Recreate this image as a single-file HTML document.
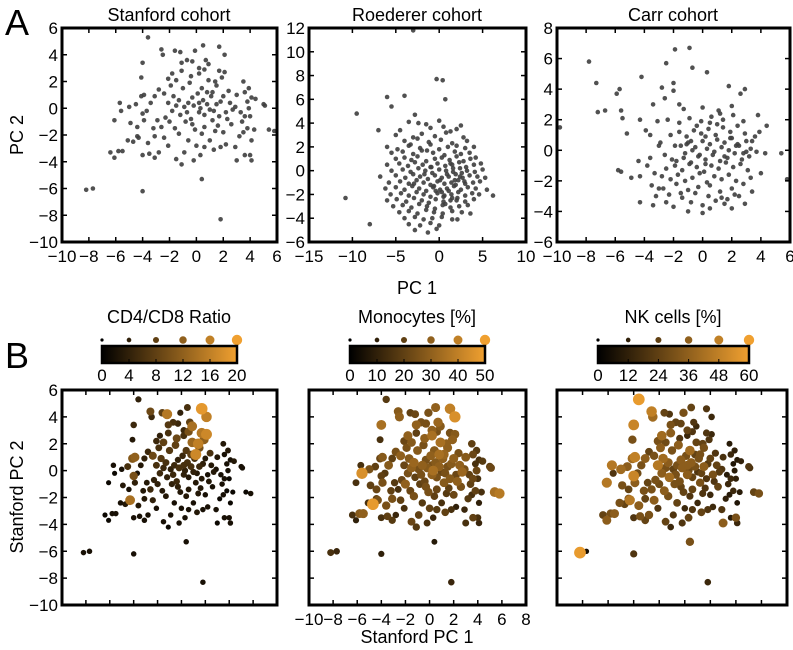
<!DOCTYPE html>
<html><head><meta charset="utf-8"><style>
html,body{margin:0;padding:0;background:#fff;}
svg{display:block;font-family:"Liberation Sans",sans-serif;}
</style></head><body>
<svg id="fig" width="793" height="650" viewBox="0 0 793 650">
<defs><linearGradient id="cg" x1="0" x2="1" y1="0" y2="0"><stop offset="0" stop-color="#000"/><stop offset="1" stop-color="#f0a030"/></linearGradient></defs>
<text x="5" y="35" font-size="36">A</text>
<text x="5" y="368" font-size="36">B</text>
<text x="169" y="21" font-size="18" text-anchor="middle">Stanford cohort</text>
<text x="417" y="21" font-size="18" text-anchor="middle">Roederer cohort</text>
<text x="673" y="21" font-size="18" text-anchor="middle">Carr cohort</text>
<text transform="translate(23,135) rotate(-90)" font-size="18" text-anchor="middle">PC 2</text>
<text x="417" y="294" font-size="18" text-anchor="middle">PC 1</text>
<text transform="translate(23,497) rotate(-90)" font-size="18" text-anchor="middle">Stanford PC 2</text>
<text x="417" y="643" font-size="18" text-anchor="middle">Stanford PC 1</text>
<text x="169" y="323" font-size="18" text-anchor="middle">CD4/CD8 Ratio</text>
<text x="417" y="323" font-size="18" text-anchor="middle">Monocytes [%]</text>
<text x="673" y="323" font-size="18" text-anchor="middle">NK cells [%]</text>
</svg>
<script>
const stanfordX=[-8.2,-7.7,-4,0.4,1.8,-3.6,-4,-4.1,1.7,2.1, 0.5,-0.1,-2.6,-2.5,-1.6,-1.2,-1.1,-0.7,0.7,0.9, -0.3,-1.1,-1.8,-2.1,-1.5,-0.4,0.2,0.6,0.2,1.7, 2.1,1.9,3.5,3.9,3.6,4.1,3.8,4.4,5.0,5.1, 5.4,5.8,4.3,4.1,3.8,3.5,3.2,3.6,4.0,3.3, 2.9,2.5,2.2,1.8,1.5,1.1,0.8,0.4,0.1,-0.3, -0.6,-0.9,-1.3,-1.7,-2.1,-2.4,-2.8,-3.1,-3.4,-3.7, -4.1,-4.5,-5.0,-5.7,-5.6,-6.1,-4.9,-4.4,-3.9,-4.4, -4.7,-5.1,-5.5,-5.8,-6.4,-6.1,-4.0,-3.5,-3.1,-2.8, -2.4,-3.1,-2.6,-2.0,-1.6,-1.3,-0.9,-1.5,-1.1,-0.2, 0.3,0.6,1.0,1.3,1.8,2.2,2.9,3.0,3.6,4.1, 4.0,0.4,-0.1,-0.4,0.2,0.6,1.2,1.6,2.0,2.6, 2.3,-0.7,-0.2,0.3,0.8,1.3,-1.2,-1.8,-2.3,-2.9, -3.2,-3.6,-2.1,-0.6,0.0,1.5,2.4,3.0,2.7,-0.5, -1.0,0.9,-1.9,3.4,3.9,1.4,-0.3,-1.5,0.5,1.0, 2.0,-4.3,-4.0,-3.9,1.4,1.2,0.2,-0.8,1.7,0.6];
const stanfordY=[-6.1,-6.0,-6.2,-5.3,-8.3,5.3,3.4,2.3,4.6,4.0, 4.7,4.3,4.4,4.0,4.3,4.2,3.4,3.6,3.6,3.3, 3.5,2.8,2.6,2.2,2.1,2.4,2.6,2.9,3.0,2.8, 2.7,2.3,2.0,1.5,1.2,0.8,0.5,0.7,0.3,0.2, -1.6,-1.7,-1.6,-2.4,-1.5,-1.8,-2.1,-0.6,-0.6,-0.3, 0.1,0.4,-0.3,0.5,0.3,0.9,1.2,1.5,1.1,0.8, 0.4,0.1,0.6,0.9,0.4,1.1,1.4,0.9,0.4,-0.2, 0.9,0.3,0.1,0.4,-0.2,-0.9,-1.1,-1.4,-0.9,-2.1, -2.5,-2.4,-3.2,-3.2,-3.3,-3.7,-3.5,-3.4,-3.7,-3.3, -2.2,-2.1,-1.4,-1.0,-1.5,-1.9,-3.3,-3.8,-4.2,-3.9, -3.5,-2.9,-2.4,-3.1,-2.9,-2.7,-2.9,-3.9,-3.5,-3.9, -3.5,-1.9,-1.6,-0.8,-0.3,-0.5,-0.9,-1.3,-1.8,-1.2, -0.8,-0.3,0.2,0.0,0.3,-0.2,-0.5,-0.2,-0.7,-0.9, -1.5,-2.6,-2.8,-2.4,-2.8,1.7,1.3,1.0,-0.1,1.9, 1.5,2.1,1.7,-1.0,0.0,-1.7,-1.2,0.2,0.6,-0.1, 0.9,-2.2,-0.4,1.0,2.0,1.2,0.4,-1.0,-0.6,-1.4];
const cd4Values=[2,2,2,2,2,4,5,3,19,16, 6,4,9,5,8,15,7,6,8,14, 5,6,4,5,8,9,6,10,5,15, 17,12,3,3,2,2,2,3,2,2, 1,2,1,1,1,2,1,2,1,2, 2,3,2,4,5,6,8,7,5,4, 5,4,6,7,6,9,5,4,3,2, 11,6,2,2,1,1,3,2,4,3, 3,2,2,2,1,1,2,2,2,2, 4,3,5,4,3,3,2,2,1,2, 2,2,2,3,2,2,2,1,2,2, 2,3,3,5,4,3,3,3,2,2, 3,5,6,4,6,3,4,5,4,3, 3,3,2,2,2,10,6,3,3,8, 7,13,6,2,2,3,4,5,6,4, 3,14,10,12,16,17,6,4,3,3];
const monoValues=[15,12,10,8,12,18,35,15,40,45, 30,25,28,30,20,22,30,25,32,28, 25,20,30,22,28,30,35,25,30,25, 28,30,20,18,22,15,15,18,20,22, 35,38,15,10,20,15,18,22,15,20, 25,30,22,28,25,30,35,28,30,25, 30,25,32,28,22,30,25,20,28,18, 22,20,25,15,45,15,20,22,25,20, 48,15,30,28,15,10,15,20,18,12, 20,25,15,30,22,25,20,22,18,15, 12,18,15,20,15,10,12,15,20,12, 15,20,25,22,30,25,28,20,22,25, 30,25,28,35,30,25,20,25,22,18, 20,25,15,18,20,30,25,28,32,25, 28,35,25,20,22,18,25,30,28,22, 30,25,20,28,30,32,25,20,28,22];
const nkValues=[58,5,20,30,15,58,50,30,20,15, 25,30,48,40,25,20,30,25,20,15, 25,35,40,30,28,20,15,20,25,20, 15,20,10,12,15,10,8,12,20,18, 25,30,10,8,15,10,12,15,12,10, 20,25,30,22,35,30,25,40,30,35, 30,25,35,40,45,30,25,35,30,28, 40,35,40,45,20,45,30,25,35,30, 25,30,35,30,25,35,20,30,25,30, 35,25,30,28,35,30,20,25,15,20, 25,20,15,25,20,15,20,35,10,15, 30,20,25,30,35,25,30,20,15,25, 20,30,35,28,30,25,40,35,30,25, 30,35,20,25,15,30,20,18,22,35, 30,25,35,15,10,20,25,30,35,20, 25,45,50,48,25,30,35,30,20,25];
const roedererX=[-10.8,-9.5,-8,-6,-7,-5.5,-3,-0.3,0.4,0.7,-4,-2.8,
-3.5,-1.5,0,2.5,-2.4, -4.5,-1,1.3,2,0.5, -5,-3,-2,-0.5,0.8,2.8, -4,-2.5,-1.2,0.2,1.5,3.2,-3.3,
-6,-4.8,-3.5,-2.2,-1,0,1,2,3,4, -5.5,-4.2,-3,-2,-0.7,0.6,1.8,2.5,3.5,-1.4,
-5,-4,-3.2,-2.5,-1.5,-0.5,0.3,1.2,2,2.8,3.6,4.2, -6,-4.6,-3.6,-2.8,-1.9,-1,-0.2,0.7,1.5,2.3,3.1,4,4.8,
-5.5,-4.2,-3.3,-2.4,-1.6,-0.8,0,0.8,1.6,2.4,3.2,4.1,5, -6.8,-5,-3.9,-3,-2.2,-1.3,-0.5,0.3,1.1,1.9,2.7,3.5,4.4,5.3,
-5.8,-4.5,-3.5,-2.6,-1.8,-1,-0.2,0.6,1.4,2.2,3,3.9,4.7, -6.2,-5,-4,-3.1,-2.3,-1.5,-0.7,0.1,0.9,1.7,2.5,3.3,4.2,5.5,
-5.6,-4.4,-3.5,-2.6,-1.8,-1,-0.2,0.6,1.4,2.2,3,3.8,4.6,6.2, -6,-4.9,-3.8,-2.9,-2,-1.2,-0.4,0.5,1.3,2.1,3,4,
-5.3,-4.2,-3.2,-2.3,-1.4,-0.5,0.4,1.3,2.3,3.3, -4.6,-3.5,-2.5,-1.5,-0.6,0.4,1.5,2.6,3.6, -4,-2.8,-1.8,-0.8,0.3,1.5, -3.5,-2.2,-1,0,2.1, -2.8,-1.3,-0.3,
0.9,1.8,-0.6,0.3,1.5,2.6,-1.7,0.1,1.1,2.0,-0.9,0.5,1.3,2.9,-2.9,1.9,0.7,-0.4,1.6,2.4];
const roedererY=[-2.3,4.8,-4.5,6.2,3.4,5.4,11.8,7.7,7.6,6.0,6.3,4.7,
4.1,3.9,4.2,3.8,4.0, 3.4,3.6,3.3,3.5,3.7, 3.0,2.8,3.1,2.9,3.2,2.8, 2.5,2.7,2.4,2.6,2.3,2.5,2.2,
2.0,1.8,2.1,1.9,2.2,1.8,2.0,2.1,1.9,2.0, 1.5,1.6,1.4,1.7,1.5,1.3,1.6,1.4,1.5,1.7,
1.0,1.1,0.9,1.2,0.8,1.0,1.1,0.9,1.2,0.8,1.0,1.1, 0.5,0.6,0.4,0.7,0.5,0.3,0.6,0.4,0.5,0.7,0.3,0.5,0.6,
0.0,0.1,-0.1,0.2,0.0,-0.2,0.1,0.0,-0.1,0.2,0.0,-0.1,0.1, -0.5,-0.4,-0.6,-0.3,-0.5,-0.7,-0.4,-0.6,-0.5,-0.3,-0.6,-0.4,-0.5,-0.6,
-1.0,-0.9,-1.1,-0.8,-1.0,-1.2,-0.9,-1.1,-1.0,-0.8,-1.1,-1.0,-0.9, -1.5,-1.4,-1.6,-1.3,-1.5,-1.7,-1.4,-1.6,-1.5,-1.3,-1.6,-1.4,-1.5,-1.6,
-2.0,-1.9,-2.1,-1.8,-2.0,-2.2,-1.9,-2.1,-2.0,-1.8,-2.1,-1.9,-2.0,-2.1, -2.5,-2.4,-2.6,-2.3,-2.5,-2.7,-2.4,-2.6,-2.5,-2.3,-2.6,-2.4,
-3.0,-2.9,-3.1,-2.8,-3.0,-3.2,-2.9,-3.1,-3.0,-2.9, -3.5,-3.4,-3.6,-3.3,-3.5,-3.6,-3.4,-3.5,-3.6, -4.0,-3.9,-4.1,-4.0,-3.9,-4.1, -4.5,-4.6,-4.4,-4.6,-4.1, -5.0,-5.2,-4.9,
-0.3,-0.8,-1.3,-1.8,-2.3,-0.2,-0.3,-0.8,-1.7,-2.5,0.3,-2.2,0.6,-0.9,-1.1,-1.2,-2.8,-1.7,0.2,-0.5];
const carrX=[-7.8,-7.3,-7.2,-6.7,-5.9,-5.7,-5.6,-5.5,-5.2,-5.8,-5.6,-4.9,-4.2,-4.3,-3.9,-3.4,-3.6,-2.5,-1.9,-0.9,-0.7,0.3,-2.8,-2.6,-2,-2,-1.6,-4.3,-4.3,-4.4,-3.4,-3.3,-3,-2.5,-2,-1.5,-1,0,0.5,1.5,2,2.9,3.4,4,4.4,4.3,5.4,5.8,3.8,3.9,3.4,2.9,2.6,1.8,-9.8,
-1.5,-1,-0.5,0,0.5,1,1.5,2,2.5,3,-1.2,-0.7,-0.2,0.3,0.8,1.3,1.8,2.3,2.8,3.3,-1.8,-1.3,-0.8,-0.3,0.2,0.7,1.2,1.7,2.2,2.7,3.2,3.7,
-2.2,-1.6,-1.1,-0.6,-0.1,0.4,0.9,1.4,1.9,2.4,2.9,-2.5,-1.9,-1.4,-0.9,-0.4,0.1,0.6,1.1,1.6,2.1,2.6,3.1,-2.8,-2.2,-1.7,-1.2,-0.7,-0.2,0.3,0.8,1.3,1.8,2.3,
-3.1,-2.4,-1.6,-0.9,-0.1,0.6,1.4,2.1,-3.5,-2.7,-1.8,-1,-0.3,0.5,1.2,2.0,2.8,-3.2,-2.3,-1.4,-0.5,0.4,1.3,2.2,-2.9,-1.9,-0.8,0.2,1.0,1.9,-3.6,-2.6,-1.3,0,1.1,
-0.8,0.0,0.9,1.7,2.5,3.3,-0.4,0.5,1.2,2.0,2.8,3.6,-3.8,-3.0,-2.1,1.5,0.2,-1.1,2.4,3.0];
const carrY=[5.8,4.4,2.5,2.6,3.7,4.0,2.6,2.1,1.1,-1.3,-1.4,-1.8,4.8,2.0,1.3,3.0,1.0,5.7,6.6,6.7,5.4,5.1,4.1,3.4,4.4,3.9,3.0,-1.7,-3.4,-0.7,-3.6,-1.5,-2.5,-3.4,-3.7,-2.8,-4.0,-4.1,-3.8,-3.5,-3.8,-3.5,-2.7,-1.5,1.6,-0.2,-0.2,-1.9,2.3,1.2,0.6,4.0,3.7,4.2,1.5,
0.3,0.5,0.2,0.6,0.4,0.7,0.5,0.8,0.3,0.6,-0.2,0.0,-0.3,0.1,-0.1,0.2,0.0,0.3,-0.2,0.1,-0.7,-0.5,-0.8,-0.4,-0.6,-0.3,-0.7,-0.5,-0.2,-0.6,-0.4,-0.1,
1.0,1.2,0.9,1.3,1.1,1.4,1.0,1.5,1.2,1.6,1.1,-1.2,-1.0,-1.3,-0.9,-1.1,-1.4,-1.0,-1.2,-0.8,-1.1,-0.9,-1.3,-1.7,-1.9,-1.6,-2.0,-1.8,-1.5,-2.1,-1.7,-1.9,-1.6,-2.0,
1.9,2.0,1.8,2.1,1.9,2.2,2.0,2.3,-2.3,-2.5,-2.2,-2.6,-2.4,-2.3,-2.7,-2.5,-2.2,-3.0,-2.9,-3.1,-2.8,-3.0,-3.1,-2.9,0.5,0.3,0.6,0.9,1.7,0.8,-0.5,-0.3,2.7,2.8,2.6,
-3.4,-3.6,-3.3,-3.2,-3.0,-1.8,1.6,1.8,2.4,2.9,1.9,0.9,-1.0,0.3,-0.6,-0.4,-0.9,0.4,0.4,-0.1];

const NS="http://www.w3.org/2000/svg";
const svg=document.getElementById('fig');
function mk(tag,attrs,parent){const e=document.createElementNS(NS,tag);for(const k in attrs)e.setAttribute(k,attrs[k]);(parent||svg).appendChild(e);return e;}
function lerpColor(t){const r=Math.round(240*t),g=Math.round(160*t),b=Math.round(48*t);return `rgb(${r},${g},${b})`;}

function panel(cfg){
  const {L,R,T,B,xmin,xmax,ymin,ymax,xticks,yticks,showX,showY,name}=cfg;
  const sx=v=>L+(v-xmin)/(xmax-xmin)*(R-L);
  const sy=v=>B-(v-ymin)/(ymax-ymin)*(B-T);
  const g=mk('g',{});
  
  
  const n=cfg.xs.length;
  const order=[...Array(n).keys()];
  if(cfg.vals) order.sort((a,b)=>cfg.vals[a]-cfg.vals[b]);
  for(const i of order){
    let r=2.3,fill='#3e3e3e';
    if(cfg.vals){const t=Math.min(1,cfg.vals[i]/cfg.vmax);r=2.4+3.6*t;fill=lerpColor(t);}
    const c=mk('circle',{cx:sx(cfg.xs[i]).toFixed(1),cy:sy(cfg.ys[i]).toFixed(1),r:r,fill:fill,'fill-opacity':cfg.vals?1:0.9},g);
    
    
  }
  for(const v of xticks){const x=sx(v);
    mk('line',{x1:x,x2:x,y1:B,y2:B-5,stroke:'#000','stroke-width':1.5},g);
    mk('line',{x1:x,x2:x,y1:T,y2:T+5,stroke:'#000','stroke-width':1.5},g);
    if(showX){const t=mk('text',{x:x,y:B+20,'font-size':17,'text-anchor':'middle'},g);t.textContent=(v<0?'\u2212'+(-v):''+v);
      
      }
  }
  for(const v of yticks){const y=sy(v);
    mk('line',{x1:L,x2:L+5,y1:y,y2:y,stroke:'#000','stroke-width':1.5},g);
    mk('line',{x1:R,x2:R-5,y1:y,y2:y,stroke:'#000','stroke-width':1.5},g);
    if(showY){const t=mk('text',{x:L-4,y:y+6,'font-size':17,'text-anchor':'end'},g);t.textContent=(v<0?'\u2212'+(-v):''+v);
      
      }
  }
  const box=mk('rect',{x:L,y:T,width:R-L,height:B-T,fill:'none',stroke:'#000','stroke-width':3},g);
  
  
}
function rng(a,b,s){const o=[];for(let v=a;v<=b+1e-9;v+=s)o.push(v);return o;}

panel({name:'stanford-scatter',L:62,R:277,T:28,B:242,xmin:-10,xmax:6,ymin:-10,ymax:6,xticks:rng(-10,6,2),yticks:rng(-10,6,2),showX:true,showY:true,xs:stanfordX,ys:stanfordY});
panel({name:'roederer-scatter',L:309,R:526,T:28,B:242,xmin:-15,xmax:10,ymin:-6,ymax:12,xticks:rng(-15,10,5),yticks:rng(-6,12,2),showX:true,showY:true,xs:roedererX,ys:roedererY});
panel({name:'carr-scatter',L:557,R:790,T:28,B:242,xmin:-10,xmax:6,ymin:-6,ymax:8,xticks:rng(-10,6,2),yticks:rng(-6,8,2),showX:true,showY:true,xs:carrX,ys:carrY});
panel({name:'cd4-cd8-scatter',L:62,R:277,T:390,B:605,xmin:-10,xmax:8,ymin:-10,ymax:6,xticks:rng(-10,8,2),yticks:rng(-10,6,2),showX:false,showY:true,xs:stanfordX,ys:stanfordY,vals:cd4Values,vmax:20});
panel({name:'monocytes-scatter',L:309,R:526,T:390,B:605,xmin:-10,xmax:8,ymin:-10,ymax:6,xticks:rng(-10,8,2),yticks:rng(-10,6,2),showX:true,showY:false,xs:stanfordX,ys:stanfordY,vals:monoValues,vmax:50});
panel({name:'nk-cells-scatter',L:557,R:787,T:390,B:605,xmin:-10,xmax:8,ymin:-10,ymax:6,xticks:rng(-10,8,2),yticks:rng(-10,6,2),showX:false,showY:false,xs:stanfordX,ys:stanfordY,vals:nkValues,vmax:60});

const cb1Ticks=[0,4,8,12,16,20], cb2Ticks=[0,10,20,30,40,50], cb3Ticks=[0,12,24,36,48,60];
function colorbar(L,R,ticks,name){
  const T=346,B=363,max=ticks[ticks.length-1];
  const g=mk('g',{});
  
  
  mk('rect',{x:L,y:T,width:R-L,height:B-T,fill:'url(#cg)'},g);
  ticks.forEach(v=>{const x=L+v/max*(R-L);const t=v/max;
    mk('line',{x1:x,x2:x,y1:B,y2:B-4,stroke:'#000','stroke-width':1},g);
    mk('circle',{cx:x,cy:340,r:1.6+3.6*t,fill:lerpColor(t)},g);
    const tx=mk('text',{x:x,y:B+18,'font-size':17,'text-anchor':'middle'},g);tx.textContent=v;
    
    
  });
  mk('rect',{x:L,y:T,width:R-L,height:B-T,fill:'none',stroke:'#000','stroke-width':2.5},g);
}
colorbar(102,237,cb1Ticks,'cd4-cd8-colorbar');
colorbar(350,485,cb2Ticks,'monocytes-colorbar');
colorbar(598,749,cb3Ticks,'nk-cells-colorbar');
</script>
</body></html>
